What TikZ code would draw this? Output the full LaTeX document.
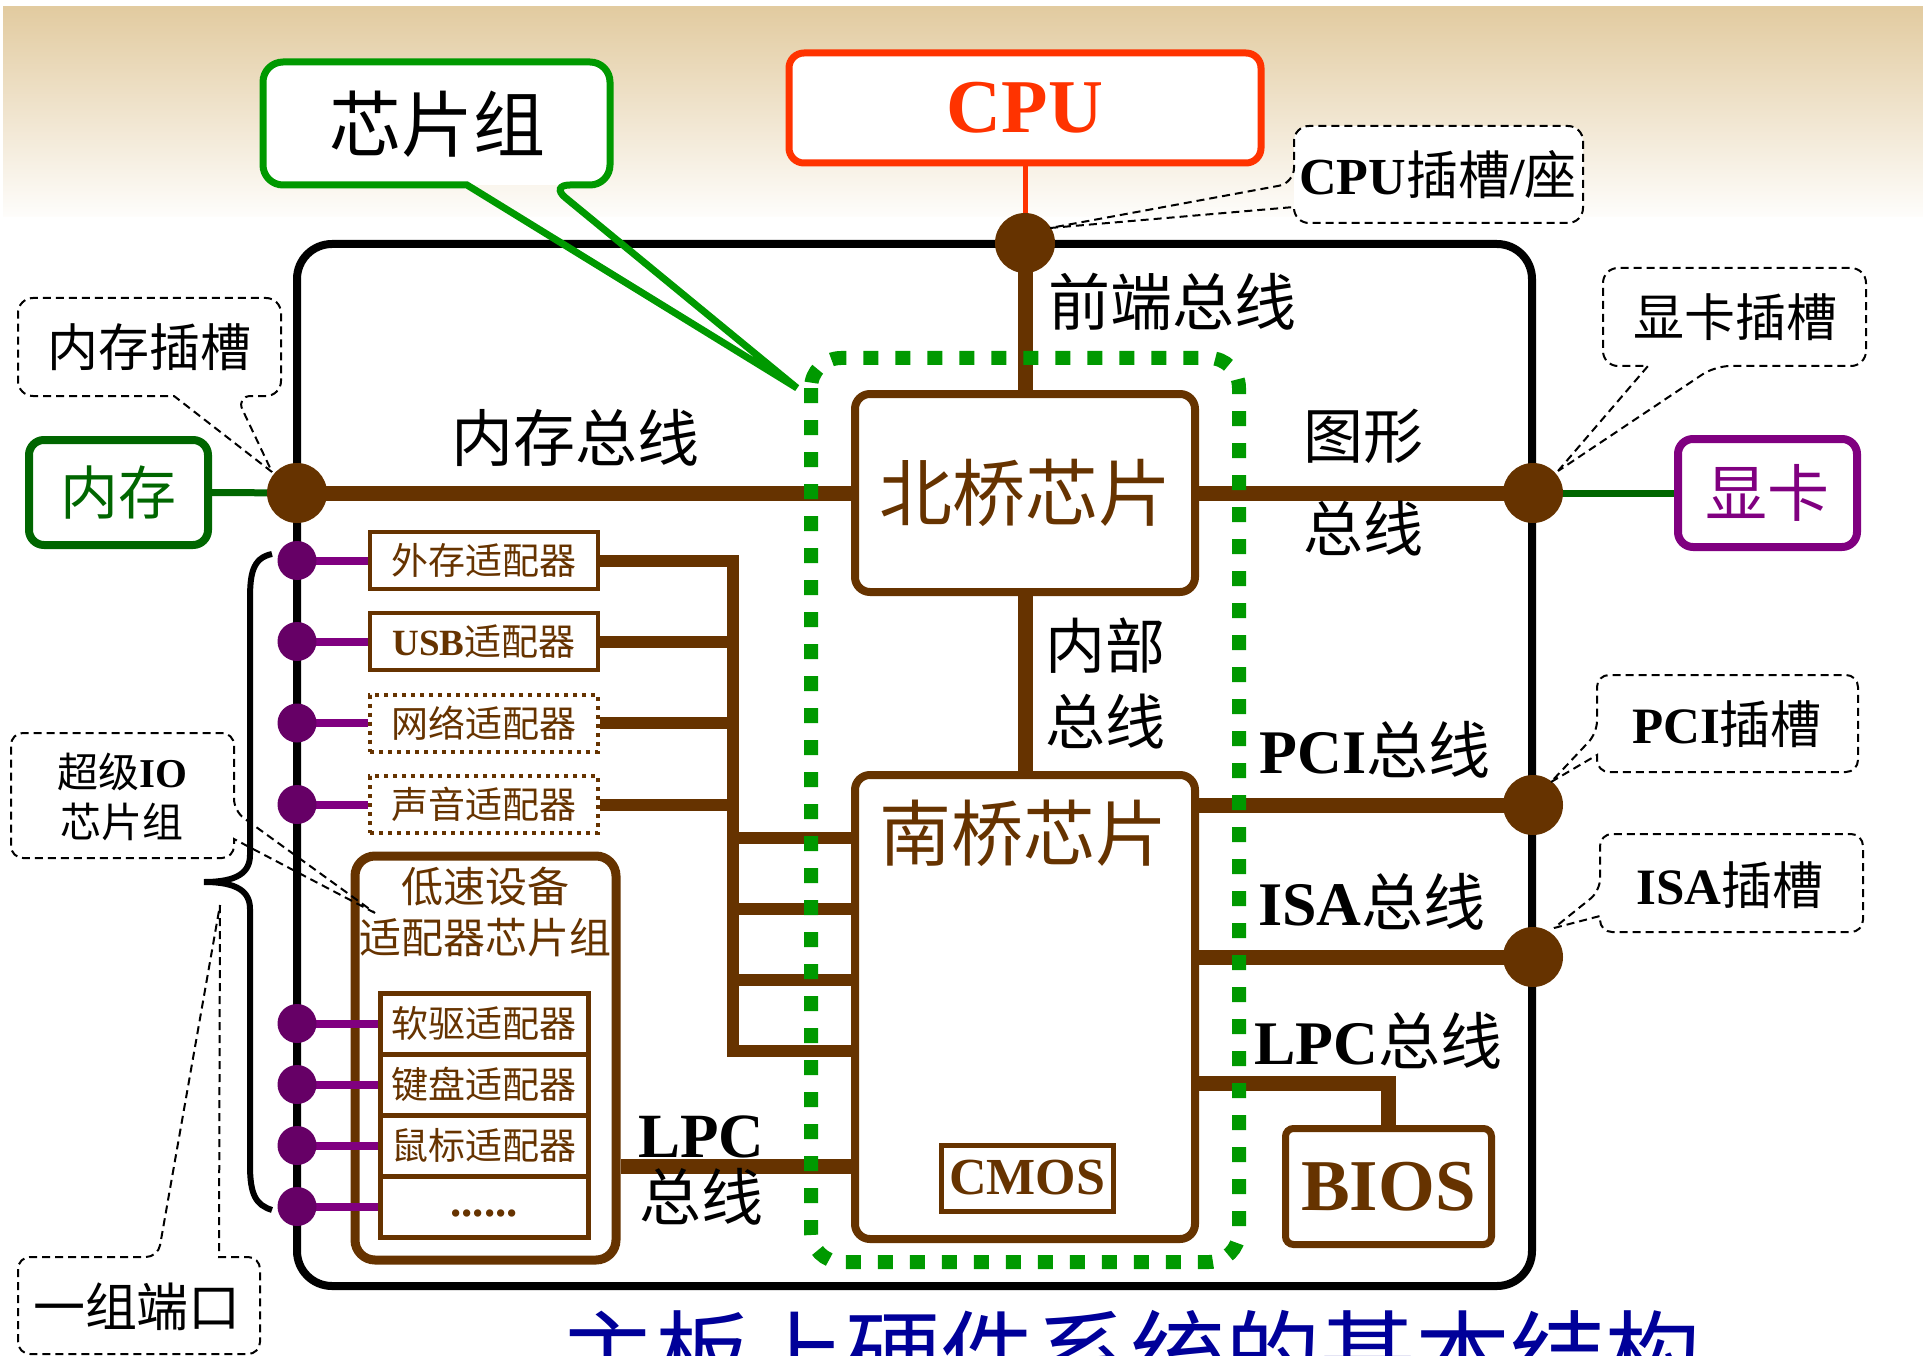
\documentclass[tikz,border=0pt]{standalone}
\usepackage{fontspec}
\setmainfont{Liberation Serif}
\newfontfamily\cjk{Noto Sans CJK SC}
\newcommand\myfs[1]{\fontsize{#1}{#1}\selectfont}
\definecolor{brn}{HTML}{663300}
\definecolor{tanc}{HTML}{E2CBA0}
\definecolor{grn}{HTML}{009900}
\definecolor{dgrn}{HTML}{006600}
\definecolor{cpured}{HTML}{FF3300}
\definecolor{pur}{HTML}{800080}
\definecolor{dpur}{HTML}{660066}
\definecolor{ttlblue}{HTML}{000099}
\pgfdeclarelayer{back}
\pgfdeclarelayer{wires}
\pgfsetlayers{back,wires,main}
\begin{document}
\begin{tikzpicture}[x=1pt,y=-1pt,
  bus/.style={draw=brn, line width=15pt},
  sbus/.style={draw=brn, line width=12pt},
  bdot/.style={circle, fill=brn, minimum size=60pt, inner sep=0pt},
  pdot/.style={circle, fill=dpur, minimum size=39pt, inner sep=0pt},
  plink/.style={draw=pur, line width=8pt},
  chip/.style={draw=brn, line width=8pt, rounded corners=15pt, fill=white, inner sep=0pt, text=brn},
  adp/.style={draw=brn, line width=4pt, minimum width=228pt, minimum height=57pt, inner sep=0pt, text=brn, font=\cjk\myfs{37}},
  rowbox/.style={draw=brn, line width=5pt, minimum width=208pt, minimum height=61pt, inner sep=0pt, text=brn, font=\cjk\myfs{37}},
  callout/.style={draw=black, line width=2pt, dash pattern=on 8pt off 5pt},
  lbl/.style={inner sep=0pt, font=\cjk\myfs{62}},
]
\useasboundingbox (0,0) rectangle (1923,1356);

\begin{pgfonlayer}{back}
\shade[top color=tanc, bottom color=white!96!tanc] (3,7) rectangle (1923,217);
\draw[line width=8pt, rounded corners=35pt] (297,244) rectangle (1532,1286);
\end{pgfonlayer}

% ---------- main nodes ----------
\node[draw=cpured, line width=7pt, rounded corners=15pt, fill=white, minimum width=472pt, minimum height=110pt, inner sep=0pt, text=cpured, font=\bfseries\myfs{76}] (cpu) at (1025,108) {CPU};
\node[bdot] (cs) at (1025,243) {};

\node[chip, minimum width=340pt, minimum height=198pt, font=\cjk\myfs{73}] (nb) at (1025,493) {北桥芯片};
\node[chip, minimum width=340pt, minimum height=464pt] (sb) at (1025,1007) {};
\node[inner sep=0pt, text=brn, font=\cjk\myfs{72}] (sbt) at (1023,833) {南桥芯片};
\node[draw=brn, line width=5pt, minimum width=172pt, minimum height=66pt, inner sep=0pt, text=brn, font=\bfseries\myfs{52}] (cmos) at (1027,1178) {CMOS};
\node[draw=brn, line width=7pt, rounded corners=8pt, minimum width=206pt, minimum height=116pt, inner sep=0pt, text=brn, font=\bfseries\myfs{73}] (bios) at (1388.5,1186.5) {BIOS};

\node[bdot] (ms) at (297,493) {};
\node[draw=dgrn, line width=8pt, rounded corners=15pt, minimum width=179pt, minimum height=105pt, inner sep=0pt, text=dgrn, font=\cjk\myfs{58}] (mem) at (118.5,492.5) {内存};

\node[bdot] (gs) at (1533,493) {};
\node[draw=pur, line width=8pt, rounded corners=15pt, minimum width=179pt, minimum height=108pt, inner sep=0pt, text=pur, font=\cjk\myfs{62}] (gc) at (1767.5,493) {显卡};

\node[bdot] (ps) at (1533,805) {};
\node[bdot] (is) at (1533,957) {};
\coordinate (lpcj) at (1388,1083);

% adapters
\node[adp] (a1) at (484,560.5) {外存适配器};
\node[adp] (a2) at (484,641.5) {{\rmfamily\bfseries USB}适配器};
\node[adp, dash pattern=on 4pt off 5pt] (a3) at (484,723) {网络适配器};
\node[adp, dash pattern=on 4pt off 5pt] (a4) at (484,804.5) {声音适配器};
\coordinate (vx) at (733,0);
\coordinate (h1) at (733,838);
\coordinate (h2) at (733,909);
\coordinate (h3) at (733,980);
\coordinate (h4) at (733,1051);
\coordinate (lpcl) at (733,1166);

% low speed chipset
\node[draw=brn, line width=9pt, rounded corners=20pt, minimum width=261pt, minimum height=404pt, inner sep=0pt] (ls) at (485.5,1058) {};
\node[inner sep=0pt, text=brn, font=\cjk\fontsize{42}{51}\selectfont, align=center] (lst) at (485,912) {低速设备\\适配器芯片组};
\node[rowbox] (r1) at (484,1023.5) {软驱适配器};
\node[rowbox] (r2) at (484,1084.5) {键盘适配器};
\node[rowbox] (r3) at (484,1145.5) {鼠标适配器};
\node[rowbox] (r4) at (484,1206.5) {};
\node[inner sep=0pt, text=brn, font=\bfseries\myfs{45}] (dots) at (484,1213) {......};

% purple ports
\coordinate (p1) at (297,560.5);
\coordinate (p2) at (297,641.5);
\coordinate (p3) at (297,723);
\coordinate (p4) at (297,804.5);
\coordinate (p5) at (297,1023.5);
\coordinate (p6) at (297,1084.5);
\coordinate (p7) at (297,1145.5);
\coordinate (p8) at (297,1206.5);
\draw[plink] (p1) -- (a1.west);
\draw[plink] (p2) -- (a2.west);
\draw[plink] (p3) -- (a3.west);
\draw[plink] (p4) -- (a4.west);
\draw[plink] (p5) -- (r1.west);
\draw[plink] (p6) -- (r2.west);
\draw[plink] (p7) -- (r3.west);
\draw[plink] (p8) -- (r4.west);
\node[pdot] (pd1) at (p1) {};
\node[pdot] (pd2) at (p2) {};
\node[pdot] (pd3) at (p3) {};
\node[pdot] (pd4) at (p4) {};
\node[pdot] (pd5) at (p5) {};
\node[pdot] (pd6) at (p6) {};
\node[pdot] (pd7) at (p7) {};
\node[pdot] (pd8) at (p8) {};

% ---------- connectors ----------
\begin{pgfonlayer}{wires}
\draw[cpured, line width=5pt] (cpu.south) -- (cs.center);
\draw[bus] (cs.center) -- (nb.north);
\draw[bus] (ms.center) -- (nb.west);
\draw[dgrn, line width=7pt] (mem.east) -- (ms.center);
\draw[bus] (nb.east) -- (gs.center);
\draw[dgrn, line width=7pt] (gs.center) -- (gc.west);
\draw[bus] (nb.south) -- (sb.north);
\draw[bus] (sb.east |- ps.center) -- (ps.center);
\draw[bus] (sb.east |- is.center) -- (is.center);
\draw[bus] (sb.east |- lpcj) -| (bios.north);
\draw[sbus] (a1.east) -- (a1.east -| vx);
\draw[sbus] (a2.east) -- (a2.east -| vx);
\draw[sbus] (a3.east) -- (a3.east -| vx);
\draw[sbus] (a4.east) -- (a4.east -| vx);
\draw[sbus, line cap=rect] (a1.east -| vx) -- (h4);
\draw[sbus] (h1) -- (sb.west |- h1);
\draw[sbus] (h2) -- (sb.west |- h2);
\draw[sbus] (h3) -- (sb.west |- h3);
\draw[sbus] (h4) -- (sb.west |- h4);
\draw[bus] (ls.east |- lpcl) -- (sb.west |- lpcl);
\end{pgfonlayer}

% chipset dotted outline
\draw[grn, line width=14pt, dash pattern=on 15pt off 17pt, rounded corners=30pt] (811,358) rectangle (1239,1262);

% ---------- labels ----------
\node[lbl] (fsb) at (1172,302) {前端总线};
\node[lbl] (mbl) at (575,438) {内存总线};
\node[inner sep=0pt, font=\cjk\fontsize{60}{93}\selectfont, align=center] (gbl) at (1363,483) {图形\\总线};
\node[inner sep=0pt, font=\cjk\fontsize{60}{76}\selectfont, align=center] (ibl) at (1105,683) {内部\\总线};
\node[lbl] (pcil) at (1375,750) {{\rmfamily\bfseries PCI}总线};
\node[lbl] (isal) at (1372,902) {{\rmfamily\bfseries ISA}总线};
\node[lbl] (lpcrl) at (1378,1041) {{\rmfamily\bfseries LPC}总线};
\node[inner sep=0pt, font=\bfseries\myfs{63}] (lpcl1) at (701,1137) {LPC};
\node[lbl] (lpcl2) at (701,1197) {总线};

% ---------- callouts ----------
\fill[white, rounded corners=20pt] (263,62) rectangle (610,185);
\draw[grn, line width=7pt] (797,388) -- (467,185) {[rounded corners=20pt] -- (263,185) -- (263,62) -- (610,62) -- (610,185) -- (550,185)} -- cycle;
\node[inner sep=0pt, font=\cjk\myfs{72}] (cst) at (437,124) {芯片组};

\fill[white, rounded corners=15pt] (1294,126) rectangle (1583,223);
\draw[callout] (1050,228) -- (1294,207) {[rounded corners=15pt] -- (1294,223) -- (1583,223) -- (1583,126) -- (1294,126) -- (1294,183)} -- cycle;
\node[inner sep=0pt, font=\cjk\myfs{52}] (cpusl) at (1438,175) {{\rmfamily\bfseries CPU}插槽{\rmfamily\bfseries /}座};

\draw[callout] (272,472) -- (174,396) {[rounded corners=15pt] -- (18,396) -- (18,298) -- (281,298) -- (281,396) -- (236,396)} -- cycle;
\node[inner sep=0pt, font=\cjk\myfs{51}] (msl) at (149,347) {内存插槽};

\draw[callout] (1558,471) -- (1648,366) {[rounded corners=15pt] -- (1603,366) -- (1603,268) -- (1866,268) -- (1866,366) -- (1715,366)} -- cycle;
\node[inner sep=0pt, font=\cjk\myfs{51}] (gsl) at (1735,317) {显卡插槽};

\draw[callout] (1551,782) -- (1597,755) {[rounded corners=12pt] -- (1597,772) -- (1858,772) -- (1858,675) -- (1597,675) -- (1597,733)} -- cycle;
\node[inner sep=0pt, font=\cjk\myfs{51}] (psl) at (1727,724) {{\rmfamily\bfseries PCI}插槽};

\draw[callout] (1554,928) -- (1600,916) {[rounded corners=12pt] -- (1600,932) -- (1863,932) -- (1863,834) -- (1600,834) -- (1600,891)} -- cycle;
\node[inner sep=0pt, font=\cjk\myfs{51}] (isl) at (1730,885) {{\rmfamily\bfseries ISA}插槽};

\draw[callout] (375,913) -- (234,839) {[rounded corners=12pt] -- (234,858) -- (11,858) -- (11,733) -- (234,733) -- (234,811)} -- cycle;
\node[inner sep=0pt, font=\cjk\fontsize{41}{50}\selectfont, align=center] (sio) at (122,797) {超级{\rmfamily\bfseries IO}\\芯片组};

\draw[callout] (220,905) -- (219,1257) {[rounded corners=12pt] -- (260,1257) -- (260,1354) -- (18,1354) -- (18,1257) -- (158,1257)} -- cycle;
\node[inner sep=0pt, font=\cjk\myfs{52}] (ports) at (137,1307) {一组端口};

% brace
\draw[line width=6pt] (272,554) .. controls (252,558) and (250,575) .. (250,600) -- (250,855) .. controls (250,872) and (238,882) .. (204,882) .. controls (238,882) and (250,892) .. (250,909) -- (250,1165) .. controls (250,1195) and (256,1205) .. (272,1210);

% title (cut off at the bottom edge, as in the reference)
\node[anchor=base, inner sep=0pt, text=ttlblue, font=\cjk\myfs{95}] (title) at (1130,1390) {主板上硬件系统的基本结构};
\end{tikzpicture}
\end{document}
